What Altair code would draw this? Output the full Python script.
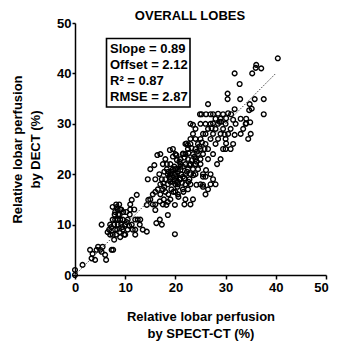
import altair as alt
import pandas as pd

# --- data (SPECT-CT %, DECT %) ---
# low / middle-lobe cluster
low_x = [0, 0, 1.5, 3, 3.3, 3.5, 4, 4.3, 4.6, 5, 5.3, 5.5, 6, 6.2, 7.3, 7.6, 5.3, 7, 6.8, 7,
         7.5, 7.8, 8, 8.2, 8, 8.5, 8.9, 8.5, 8.2, 8.8, 9, 9.2, 9.5, 9.5, 10, 10, 10.5, 10.5,
         10.9, 11, 11, 11.3, 11.5, 12, 12, 12.5, 13, 12, 12.9, 14.3, 13.5, 7.9, 8.5, 9, 9.8,
         10.2, 9, 11.8, 7.5, 8, 8.3, 8.6, 9.2, 9.6, 7.8, 8.4, 8.9, 9.4, 10.3, 10.8, 7.2, 6.5, 7.5]
low_y = [0, 1, 2, 5, 3.3, 4.2, 3, 5, 5.6, 5, 4.6, 5.6, 4, 3, 5, 5, 10, 10, 9, 8,
         8, 7, 9, 8, 11, 11, 12, 13, 14, 14, 13, 10, 9, 11, 10, 8, 9, 11,
         12, 13, 14, 10, 9, 9, 11, 11, 11, 8, 10, 8.6, 9, 12, 10, 11, 8,
         12.5, 7.5, 13, 11, 12.5, 13.5, 12, 13, 12.5, 10, 9, 8.5, 9.5, 10.5, 9.8, 9.5, 8.5, 13.5]
# upper-lobe cluster
mid_x = [14.3, 14.6, 15, 15.5, 16, 16.9, 17.5, 18.2, 19.9, 16, 16.9, 16.2, 17.3, 18.5, 19.9, 12.3,
         11.3, 15.5, 16, 16.5, 17, 17, 17.5, 18, 18, 18.5, 18.3, 19, 19, 19.2, 19.5, 19.8, 20,
         20, 20.5, 20.5, 21, 21, 21.2, 21.5, 22, 22, 21.8, 23, 23.5, 19, 18.5, 17.7, 20.3, 19.5,
         18, 17.5, 16.8, 16, 15, 14.5, 15.8, 16.4, 17, 25.5, 24.2, 26.1, 25.5]
mid_y = [13.9, 14.9, 15, 14, 14, 14.6, 14, 13.9, 13.9, 12.9, 11, 10.3, 10, 11.9, 8.1, 15.9,
         14.9, 16, 16.5, 17, 18, 16, 17, 19, 16.5, 20, 21, 22, 18.5, 17, 20, 19, 21,
         16.5, 16, 18, 19, 22, 20, 17, 18, 15, 14, 14, 15, 15, 14.5, 15, 22.8, 23.5,
         23, 22, 20, 19, 21, 19, 21.8, 23.8, 24, 17.9, 17.9, 20.8, 19.5]
dense_x = [19, 19.5, 20, 20, 20.5, 20.8, 21, 21.5, 22, 22, 22.5, 22.5, 23, 23, 23.5, 23.5, 24, 24,
           21, 21.5, 22, 20, 19.5, 18.9, 21.5, 22.5, 23, 24, 24.5, 25, 25, 24.5, 24, 23, 22.5,
           25.5, 25, 26, 26.5, 27, 27.5, 26, 25.5, 27, 28, 20.5, 21.5, 22.8, 18.5, 19, 19.5, 20,
           20.2, 20.5, 21, 20.8, 19.8, 19.2, 18.8, 20.4, 21.3, 21.8, 22.3, 22.8, 23.3, 23.8, 24.3,
           24.8, 25.3, 25.8, 24.2, 23.6, 22.6, 21.6, 20.6, 19.6, 18.6, 17.8, 17.3, 17.8, 18.3,
           21.8, 22.6, 23.2, 22.5, 22.2, 20.2, 18.6, 17.6]
dense_y = [20, 21, 19.5, 20, 20.5, 19, 20.8, 21.5, 20, 22, 21, 23, 22, 20, 21, 24, 22, 23,
           23, 24, 24, 24, 25, 24.8, 24.1, 25, 26, 25, 24, 23, 22, 21, 20, 18, 17,
           20, 18, 16, 17, 18, 19, 19.5, 17.5, 20, 18, 18.5, 19.5, 19, 18, 19, 18.5, 18,
           19.5, 21, 21.5, 22.5, 21.5, 20.5, 19.5, 17.5, 18.3, 19.2, 20.5, 21.8, 22.8, 23.5, 24.5,
           25.5, 26.3, 25, 22.5, 19.8, 18.5, 16.5, 15.5, 16.5, 16, 17.5, 19, 20.5, 22,
           23.3, 24.2, 25.2, 25.8, 26.1, 23.8, 20.5, 18.2]
# lower-lobe cluster and high values
high_x = [22, 23, 23.5, 24, 24.5, 25, 25, 25.5, 26, 26, 26.5, 27, 27, 27.5, 28, 28, 28.5, 28.5,
          29, 29, 29.5, 30, 30, 29.5, 29, 28.3, 27.5, 26.5, 26.5, 25.5, 30.5, 31, 31.5, 31, 30,
          28, 26, 25, 24, 23, 24.9, 26.1, 27, 28.5, 29.5, 30.5, 26.5, 31.8, 34.7, 35.2, 34.8,
          35.8, 32.9, 30.4, 30.4, 37.6, 37.6, 32.8, 31.8, 35.3, 36, 37.1, 36.1, 40.4, 33.5, 34,
          33, 32, 35, 34.5, 33, 23.5, 27.5, 27.2, 28.8, 31.5, 31.8, 30.1, 34.1, 34.1, 34.9, 31.1,
          30.1, 29.1, 29.8, 25.2, 27.5]
high_y = [26, 27, 28, 27, 26, 25, 27, 28, 26, 28, 29, 27, 30, 28, 29, 26, 27, 30,
          28, 31, 29, 27, 25, 25, 23, 22, 24, 25, 23, 24, 28, 29, 26, 25, 30,
          31, 30, 30, 29, 30, 31.9, 31.9, 31.9, 32, 31.9, 32.1, 33.9, 32.9, 32.7, 33, 33.9,
          34.9, 34.9, 34.9, 36, 34.9, 31.9, 37.9, 40, 40, 41.1, 41, 41.7, 43, 29, 30,
          28, 30, 28, 27, 31, 29.8, 30.1, 29.1, 30.4, 30.8, 27.8, 26.1, 30.1, 31, 30.3, 31.9,
          31.1, 30.4, 27.9, 31.9, 31.9]

line_x = [0, 40]
line_y = [0, 40]

stats_text = ["Slope = 0.89", "Offset = 2.12", "R² = 0.87", "RMSE = 2.87"]
ticks = list(range(0, 55, 5))

xs = low_x + mid_x + dense_x + high_x
ys = low_y + mid_y + dense_y + high_y
pts = pd.DataFrame({"spect": xs, "dect": ys})
line_df = pd.DataFrame({"spect": line_x, "dect": line_y})

FONT = "Liberation Sans"
W, H = 251, 252

xscale = alt.Scale(domain=[0, 50], nice=False, zero=False)
yscale = alt.Scale(domain=[0, 50], nice=False, zero=False)

xaxis = alt.Axis(
    values=ticks, grid=False, domainColor="black", domainWidth=1.5, tickColor="black",
    tickWidth=1.5, tickSize=4, labelFont=FONT, labelFontSize=13, labelFontWeight="bold",
    labelColor="black", labelPadding=2, labelFlush=False, labelOverlap=False,
    labelOffset={"condition": {"test": "datum.value == 50", "value": -5}, "value": 0},
    title=["Relative lobar perfusion", "by SPECT-CT (%)"], titleFont=FONT, titleFontSize=13,
    titleFontWeight="bold", titleColor="black", titleX=W / 2, titleY=41,
    titleBaseline="middle", titleLineHeight=17, titleAlign="center",
)
yaxis = alt.Axis(
    values=ticks, grid=False, domainColor="black", domainWidth=1.5, tickColor="black",
    tickWidth=1.5, tickSize=3, labelFont=FONT, labelFontSize=13, labelFontWeight="bold",
    labelColor="black", labelPadding=1, labelFlush=False, labelOverlap=False,
    title=["Relative lobar perfusion", "by DECT (%)"], titleFont=FONT, titleFontSize=13,
    titleFontWeight="bold", titleColor="black", titleX=-58, titleY=H / 2,
    titleBaseline="middle", titleLineHeight=18, titleAngle=-90, titleAlign="center",
)

points = alt.Chart(pts).mark_point(
    shape="circle", filled=False, color="black", size=22, strokeWidth=1.4, opacity=1
).encode(
    x=alt.X("spect:Q", scale=xscale, axis=xaxis),
    y=alt.Y("dect:Q", scale=yscale, axis=yaxis),
)

ident = alt.Chart(line_df).mark_line(
    color="#444444", strokeWidth=1, strokeDash=[1.5, 1.5]
).encode(x=alt.X("spect:Q", scale=xscale), y=alt.Y("dect:Q", scale=yscale))

box = alt.Chart(pd.DataFrame({"a": [0]})).mark_rect(
    fill="white", stroke="black", strokeWidth=1.6
).encode(x=alt.value(31.5), x2=alt.value(115), y=alt.value(15.5), y2=alt.value(84))

stats = alt.Chart(pd.DataFrame({"t": ["\n".join(stats_text)]})).mark_text(
    align="left", baseline="middle", font=FONT, fontSize=13, fontWeight="bold",
    color="black", lineBreak="\n", lineHeight=16
).encode(x=alt.value(35), y=alt.value(26), text="t:N")

title = alt.Chart(pd.DataFrame({"t": ["OVERALL LOBES"]})).mark_text(
    align="center", baseline="middle", font=FONT, fontSize=13, fontWeight="bold", color="black"
).encode(x=alt.value(115), y=alt.value(-7.5), text="t:N")

chart = alt.layer(points, ident, box, stats, title).properties(
    width=W, height=H,
    autosize=alt.AutoSizeParams(type="none"),
    padding={"left": 67, "top": 15, "right": 3, "bottom": 66},
).configure_view(stroke=None)

chart.save("out.html", embed_options={"renderer": "svg", "actions": False})
